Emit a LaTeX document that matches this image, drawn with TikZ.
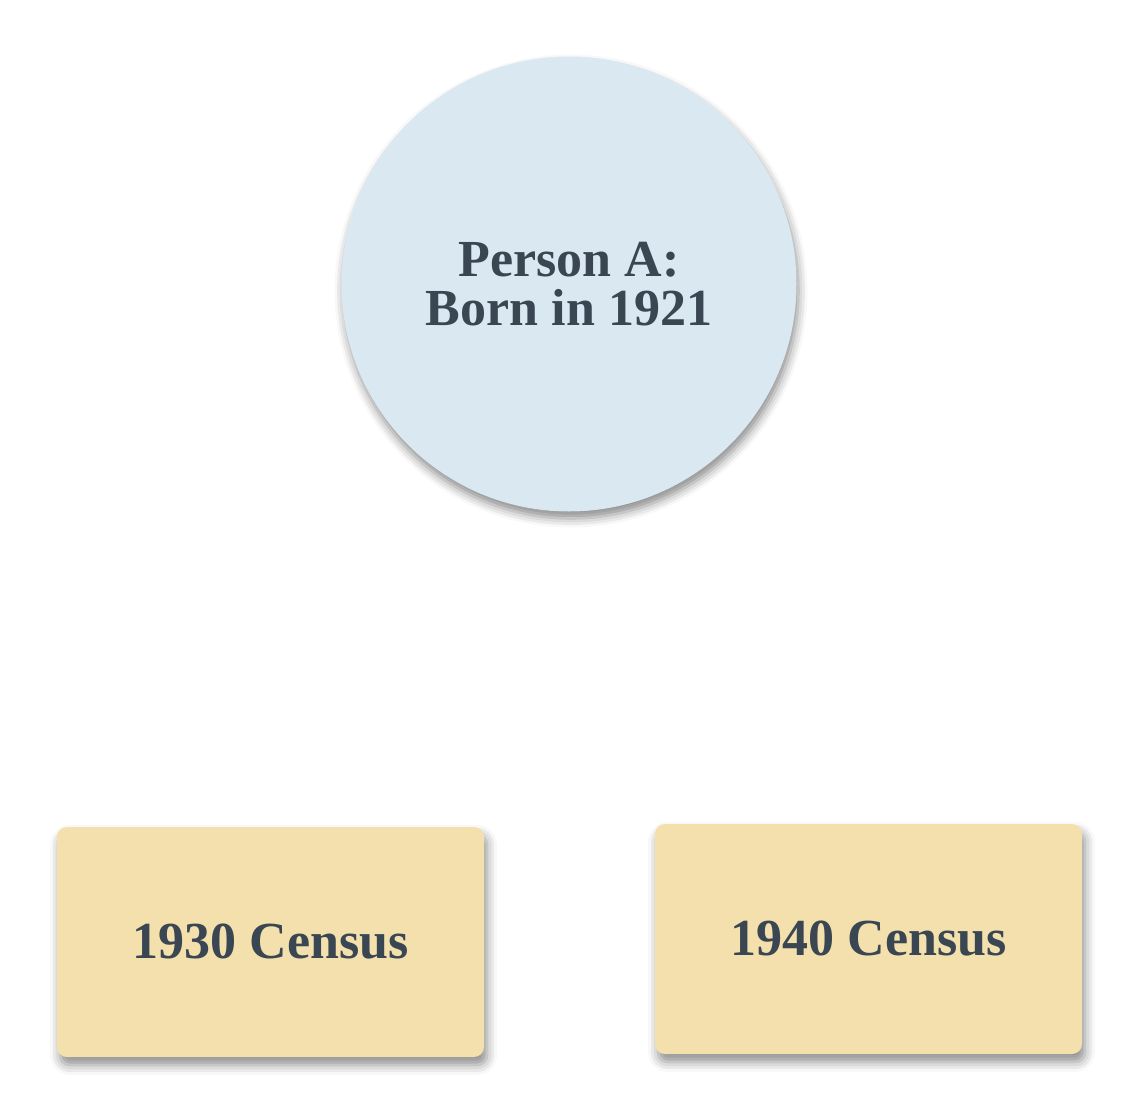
\documentclass[tikz,border=0pt]{standalone}
\usepackage{fontspec}
\setmainfont{Liberation Serif}
\usetikzlibrary{shadows.blur}
\definecolor{circfill}{HTML}{D9E8F1}
\definecolor{boxfill}{HTML}{F3E0AD}
\definecolor{txtc}{HTML}{3A4753}
\tikzset{
  person/.style={circle, fill=circfill, minimum size=455pt, inner sep=0pt, align=center,
    text=txtc, font=\fontsize{52}{49}\selectfont\bfseries,
    blur shadow={shadow xshift=2pt, shadow yshift=-7pt, shadow blur radius=9pt, shadow opacity=45}},
  census/.style={rectangle, rounded corners=10pt, fill=boxfill, minimum width=427pt, minimum height=230pt,
    inner sep=0pt, text=txtc, font=\fontsize{52}{52}\selectfont\bfseries,
    blur shadow={shadow xshift=3pt, shadow yshift=-8pt, shadow blur radius=10pt, shadow opacity=45}}
}
\begin{document}
\begin{tikzpicture}[x=1pt,y=-1pt]
\useasboundingbox (0,0) rectangle (1140,1114);
\node[person] (pa) at (569,284) {Person A:\\Born in 1921};
\node[census] (c30) at (270.5,942) {1930 Census};
\node[census] (c40) at (868.5,939) {1940 Census};
\end{tikzpicture}
\end{document}
